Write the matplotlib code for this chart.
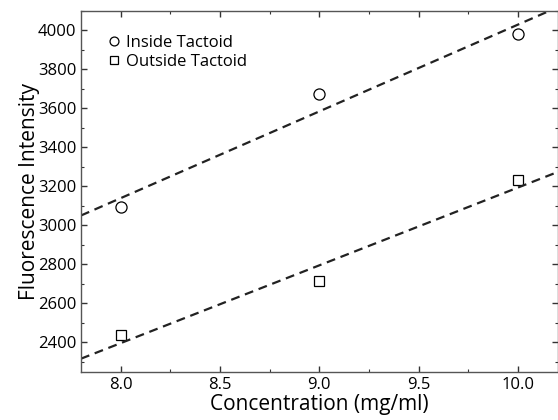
import numpy as np
import matplotlib.pyplot as plt
from matplotlib.ticker import MultipleLocator

# data
concentration = [8.0, 9.0, 10.0]
inside_tactoid = [3094, 3675, 3983]
outside_tactoid = [2436, 2716, 3233]

plt.rcParams['font.family'] = ['Open Sans', 'DejaVu Sans']

fig = plt.figure(figsize=(5.58, 4.2), dpi=100)
ax = fig.add_axes([0.1452, 0.115, 0.854, 0.8595])

xfit = np.array([7.8, 10.2])
for y, marker, label in [(inside_tactoid, 'o', 'Inside Tactoid'),
                         (outside_tactoid, 's', 'Outside Tactoid')]:
    ax.plot(concentration, y, linestyle='none', marker=marker, markersize=8 if marker == 'o' else 7,
            markerfacecolor='white', markeredgecolor='black', markeredgewidth=0.9, label=label)
    slope, intercept = np.polyfit(concentration, y, 1)
    ax.plot(xfit, slope * xfit + intercept, color='#222222', linestyle=(0, (4, 2.6)), linewidth=1.6)

ax.set_xlim(7.8, 10.2)
ax.set_ylim(2250, 4100)
ax.xaxis.set_major_locator(MultipleLocator(0.5))
ax.xaxis.set_minor_locator(MultipleLocator(0.25))
ax.yaxis.set_major_locator(MultipleLocator(200))
ax.yaxis.set_minor_locator(MultipleLocator(100))
ax.xaxis.set_major_formatter(plt.FormatStrFormatter('%.1f'))
ax.tick_params(which='both', direction='in', top=True, right=True, labelsize=12, color='#333333')
ax.tick_params(which='major', length=4, width=1)
ax.tick_params(which='minor', length=2, width=0.8)
for s in ax.spines.values():
    s.set_color('#555555')
    s.set_linewidth(1)

ax.set_xlabel('Concentration (mg/ml)', fontsize=15, labelpad=1)
ax.set_ylabel('Fluorescence Intensity', fontsize=15, labelpad=-2)

ax.legend(loc='upper left', bbox_to_anchor=(0.02, 0.98), frameon=False, fontsize=12, markerscale=0.8,
          handlelength=0.8, handletextpad=0.3, labelspacing=0.2, borderaxespad=0.6)

fig.savefig('out.png', dpi=100)
